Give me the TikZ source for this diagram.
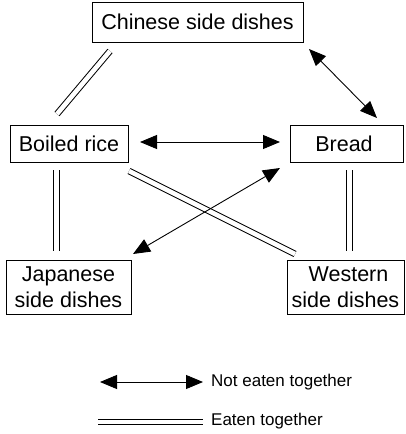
\documentclass[tikz,border=0pt]{standalone}
\usepackage{fontspec}
\setmainfont{Liberation Sans}
\usetikzlibrary{arrows.meta}
\begin{document}
\begin{tikzpicture}[x=1pt,y=-1pt,
  box/.style={draw, line width=0.8pt, inner sep=0pt, font=\fontsize{21.5}{25.5}\selectfont, align=center},
  notto/.style={line width=0.9pt, {Triangle[length=17pt,width=14pt]}-{Triangle[length=17pt,width=14pt]}},
  eaten/.style={double, double distance=4.6pt, line width=1pt},
  lbl/.style={anchor=west, inner sep=0pt, font=\fontsize{17}{20}\selectfont}]
\useasboundingbox (0,0) rectangle (405,434);
\node[box, minimum width=211pt, minimum height=40pt] (chin) at (197.5,22) {Chinese side dishes};
\node[box, minimum width=118pt, minimum height=37pt] (rice) at (69,143.5) {Boiled rice};
\node[box, minimum width=113pt, minimum height=37pt] (bread) at (347,143.5) {\hspace*{-6pt}Bread};
\node[box, minimum width=125pt, minimum height=54pt] (jap) at (68.5,287) {Japanese\\side dishes};
\node[box, minimum width=117pt, minimum height=54pt] (west) at (345.5,287) {\hspace*{6pt}Western\\side dishes};
% connector end points
\coordinate (c1) at (110,51);
\coordinate (r1) at (57,114);
\coordinate (c2) at (309,49);
\coordinate (b2) at (377,118);
\coordinate (r3) at (140,142);
\coordinate (b3) at (280,142);
\coordinate (r4) at (56.3,170);
\coordinate (j4) at (56.3,251);
\coordinate (b5) at (349.5,170);
\coordinate (w5) at (349.5,251);
\coordinate (r6) at (129,171);
\coordinate (w6) at (295,254);
\coordinate (b7) at (280,168);
\coordinate (j7) at (133,254);
\draw[eaten] (c1) -- (r1);
\draw[notto] (c2) -- (b2);
\draw[notto] (r3) -- (b3);
\draw[eaten] (r4) -- (j4);
\draw[eaten] (b5) -- (w5);
\draw[eaten] (r6) -- (w6);
\draw[notto] (b7) -- (j7);
% legend
\coordinate (la1) at (100,382);
\coordinate (la2) at (203,382);
\coordinate (ld1) at (98,422);
\coordinate (ld2) at (203,422);
\draw[notto] (la1) -- (la2);
\draw[eaten] (ld1) -- (ld2);
\node[lbl] (ln) at (211,382) {Not eaten together};
\node[lbl] (le) at (211,421) {Eaten together};
\end{tikzpicture}
\end{document}
